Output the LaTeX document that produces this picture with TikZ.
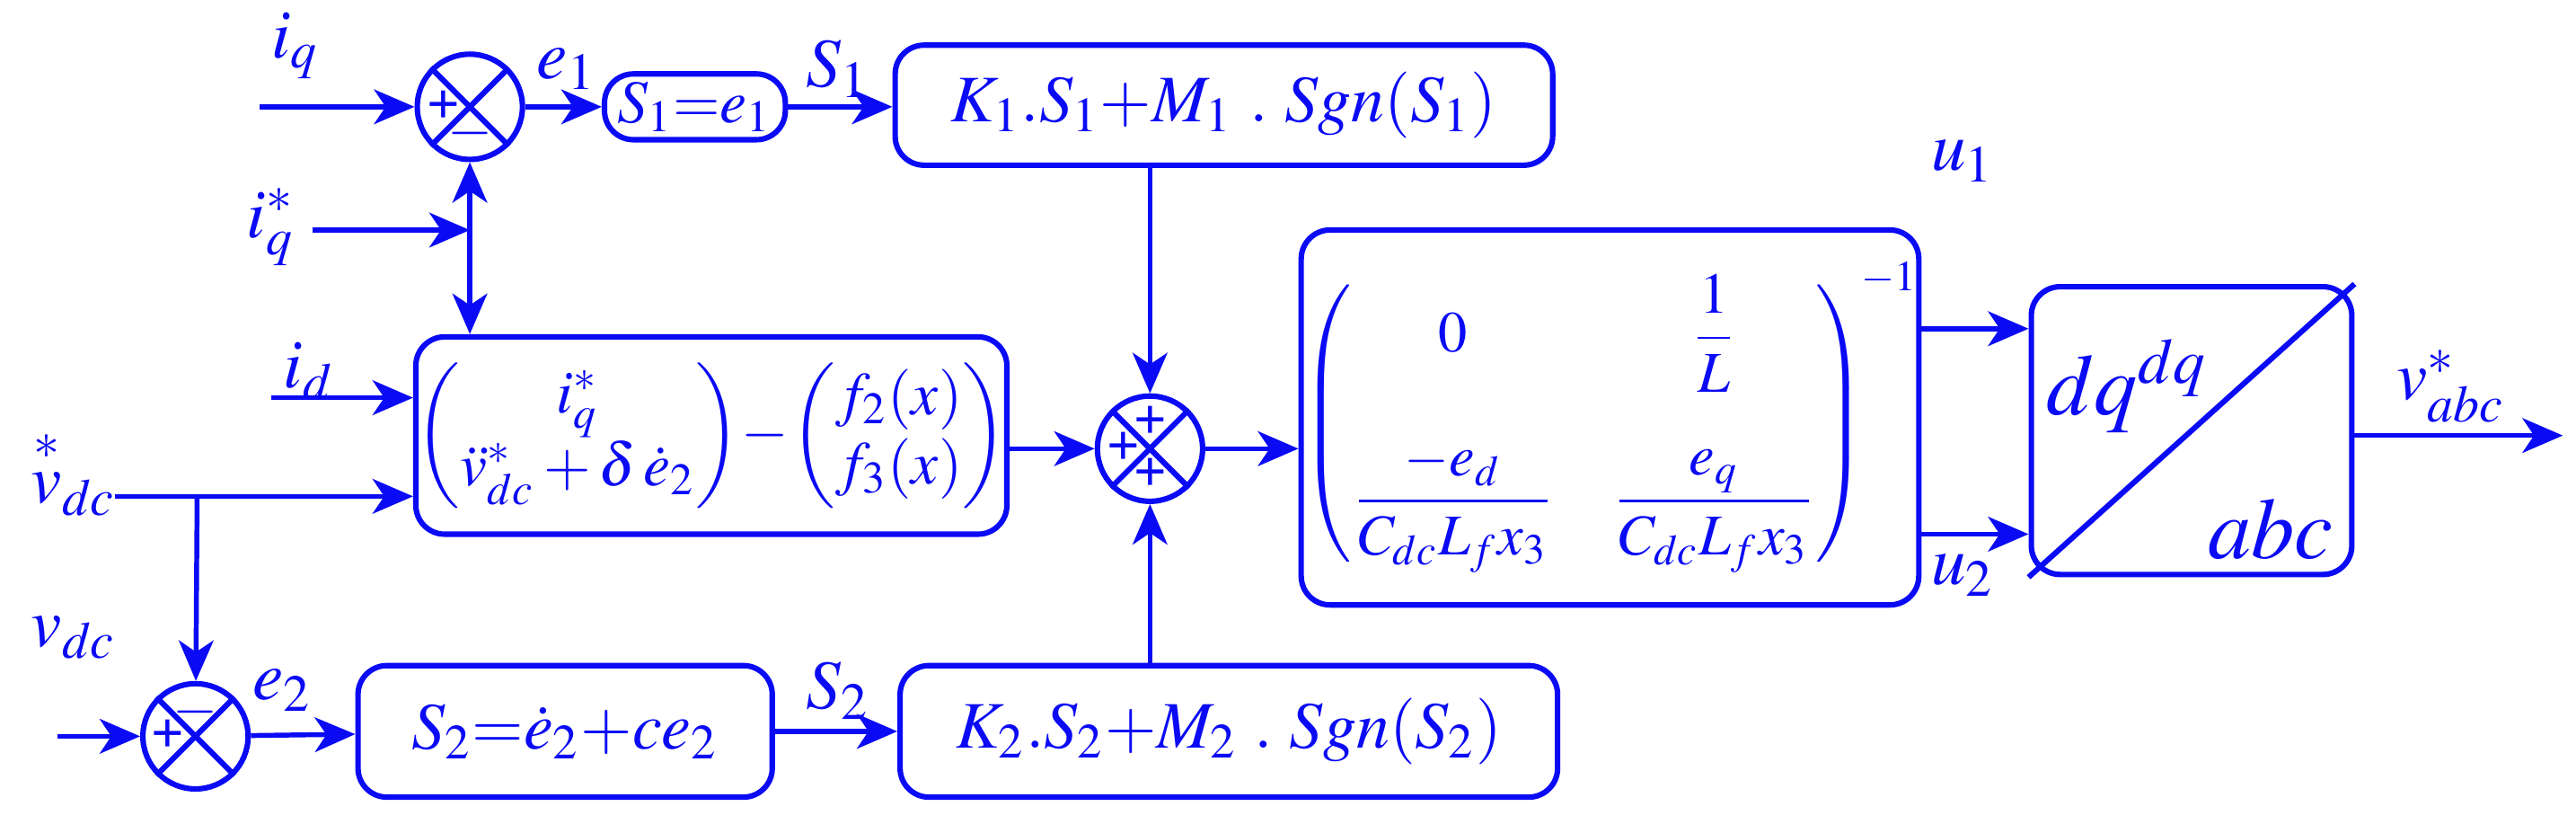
\documentclass[tikz,border=0pt]{standalone}
\usepackage{amsmath}
\usepackage{mathptmx}
\usepackage[no-math]{fontspec}
\setmainfont{Liberation Serif}
\usetikzlibrary{arrows.meta,calc}
\definecolor{bl}{RGB}{10,10,245}
\begin{document}
\begin{tikzpicture}[x=0.01cm,y=-0.01cm,
  line width=0.85pt, color=bl,
  >={Stealth[length=7pt,width=6pt,inset=2pt]},
  lab/.style={text=bl,font=\fontsize{12}{14}\selectfont,inner sep=0pt},
  box/.style={draw=bl,line width=0.95pt,rounded corners=5pt,text=bl,inner sep=0pt,font=\fontsize{11.5}{13}\selectfont},
  sum/.style={draw=bl,line width=0.95pt,circle,minimum size=0.64cm,inner sep=0pt},
  sg/.style={text=bl,inner sep=0pt,font=\bfseries\fontsize{10}{10}\selectfont}]
\useasboundingbox (0,0) rectangle (1568,501);
% sum junctions
\node[sum] (s1) at (286,65) {};
\node[sum] (s2) at (119,448) {};
\node[sum] (s3) at (700,273) {};
\foreach \s in {s1,s2,s3}{\draw[line width=0.95pt] (\s.north west)--(\s.south east) (\s.north east)--(\s.south west);}
\node[sg] at ($(s1)+(-16,0)$) {+}; \node[sg] at ($(s1)+(0,16)$) {$-$};
\node[sg] at ($(s2)+(-17,0)$) {+}; \node[sg] at ($(s2)+(0,-15)$) {$-$};
\node[sg] at ($(s3)+(-16,0)$) {+}; \node[sg] at ($(s3)+(0,-16)$) {+}; \node[sg] at ($(s3)+(0,16)$) {+};
% boxes
\node[box,minimum width=1.1cm,minimum height=0.4cm,font=\fontsize{10.5}{12}\selectfont] (b1) at (423,65) {$S_1{=}e_1$};
\node[box,minimum width=4cm,minimum height=0.73cm] (k1) at (745,64) {$K_1.S_1{+}M_1\ .\ Sgn(S_1)$};
\node[box,minimum width=2.52cm,minimum height=0.8cm] (b2) at (344,445) {$S_2{=}\dot e_2{+}ce_2$};
\node[box,minimum width=4cm,minimum height=0.8cm] (k2) at (748,445) {$K_2.S_2{+}M_2\ .\ Sgn(S_2)$};
\node[box,minimum width=3.27cm,minimum height=1.2cm,font=\fontsize{10.5}{12}\selectfont] (m1) at (433,265)
 {$\begin{pmatrix} i_q^{*}\\ \ddot v_{dc}^{*}+\delta\,\dot e_2\end{pmatrix}\!-\!\begin{pmatrix} f_2(x)\\ f_3(x)\end{pmatrix}$};
\node[box,minimum width=3.75cm,minimum height=2.28cm,font=\fontsize{10}{12}\selectfont] (m2) at (980,254)
 {$\left(\begin{matrix} 0 & \dfrac{1}{L}\\[12pt] \dfrac{-e_d}{C_{dc}L_f x_3} & \dfrac{e_q}{C_{dc}L_f x_3}\end{matrix}\right)^{\!-1}$};
\node[box,minimum width=1.95cm,minimum height=1.75cm] (t) at (1334,262) {};
\draw[line width=0.95pt] (t.south west)--(t.north east);
\node[lab,font=\fontsize{15}{17}\selectfont] at (1295,235) {$dq^{dq}$};
\node[lab,font=\fontsize{15}{17}\selectfont] at (1382,322) {$abc$};
% labels
\node[lab] at (180,28) {$i_q$};
\node[lab] at (345,42) {$e_1$};
\node[lab] at (510,42) {$S_1$};
\node[lab] at (165,138) {$i_q^{*}$};
\node[lab] at (188,226) {$i_d$};
\node[lab] at (45,287) {$\overset{*}{v}_{dc}$};
\node[lab] at (45,388) {$v_{dc}$};
\node[lab] at (172,420) {$e_2$};
\node[lab] at (510,420) {$S_2$};
\node[lab] at (1195,98) {$u_1$};
\node[lab] at (1195,350) {$u_2$};
\node[lab] at (1492,235) {$v_{abc}^{*}$};
% coordinates
\coordinate (iq) at (158,65);
\coordinate (iqs) at (190,140);
\coordinate (jq) at (286,140);
\coordinate (id) at (165,242);
\coordinate (vd) at (70,302);
\coordinate (jv) at (120,302);
\coordinate (vdc) at (35,448);
\coordinate (out) at (1560,265);
% connectors
\draw[->] (iq) -- (s1);
\draw[->] (s1) -- (b1);
\draw[->] (b1) -- (k1.west|-b1);
\draw[->] (iqs) -- (jq);
\draw[->] (jq) -- (s1);
\draw[->] (jq) -- (jq|-m1.north);
\draw[->] (id) -- (id-|m1.west);
\draw[->] (vd) -- (vd-|m1.west);
\draw[->] (jv) -- (s2);
\draw[->] (vdc) -- (s2);
\draw[->] (s2) -- (b2);
\draw[->] (b2) -- (k2);
\draw[->] (s3|-k1.south) -- (s3);
\draw[->] (s3|-k2.north) -- (s3);
\draw[->] (m1.east|-s3) -- (s3);
\draw[->] (s3) -- (m2.west|-s3);
\draw[->] (m2.east|-0,200) -- (t.west|-0,200);
\draw[->] (m2.east|-0,325) -- (t.west|-0,325);
\draw[->] (t.east|-out) -- (out);
\end{tikzpicture}
\end{document}
